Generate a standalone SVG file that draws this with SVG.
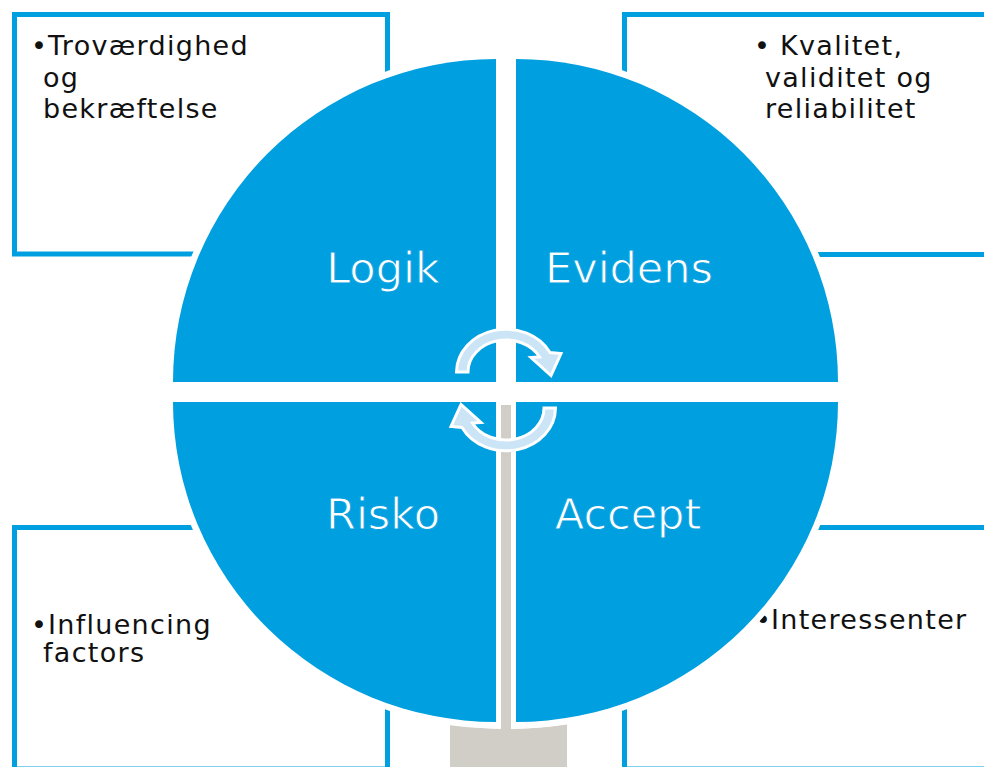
<svg xmlns="http://www.w3.org/2000/svg" width="984" height="767" viewBox="0 0 984 767">
<style>
.box{fill:#FFFFFF;stroke:#009FDF;stroke-width:5}
.pie{fill:#009FDF;stroke:#FFFFFF;stroke-width:13;paint-order:stroke fill;stroke-linejoin:miter}
.lbl{font-family:"DejaVu Sans","Liberation Sans",sans-serif;font-size:43px;fill:#FFFFFF;stroke:#009FDF;stroke-width:0.9px;text-anchor:middle}
.txt{font-family:"DejaVu Sans","Liberation Sans",sans-serif;font-size:27px;fill:#111111;letter-spacing:1.3px}
.arr{fill:#CBE4F6;stroke:#FFFFFF;stroke-width:3;stroke-linejoin:miter}
.stand{fill:#D0CEC6}
</style>
<rect width="984" height="767" fill="#FFFFFF"/>
<g id="box-tl">
<rect class="box" x="14.5" y="14.5" width="373" height="239.5"/>
<text class="txt"><tspan x="31" y="55">•</tspan><tspan x="48" y="55">Troværdighed</tspan><tspan x="43" y="87">og</tspan><tspan x="43" y="118">bekræftelse</tspan></text>
</g>
<g id="box-tr">
<rect class="box" x="624.5" y="14.5" width="400" height="240"/>
<text class="txt"><tspan x="754" y="55">•</tspan><tspan x="780" y="55">Kvalitet,</tspan><tspan x="765" y="87">validitet og</tspan><tspan x="765" y="118">reliabilitet</tspan></text>
</g>
<g id="box-bl">
<rect class="box" x="14.5" y="527.5" width="373" height="241.5"/>
<text class="txt"><tspan x="31" y="634">•</tspan><tspan x="48" y="634">Influencing</tspan><tspan x="43" y="662">factors</tspan></text>
</g>
<g id="box-br">
<rect class="box" x="624.5" y="527.5" width="400" height="241.5"/>
<text class="txt"><tspan x="755" y="629">•</tspan><tspan x="771" y="629">Interessenter</tspan></text>
</g>
<g id="stand-base">
<path class="stand" d="M450,724 Q508,734 567,724 L567,767 L450,767 Z"/>
</g>
<g id="logik">
<path class="pie" d="M496,382 L173,382 A323,323 0 0 1 496,59 Z"/>
<text class="lbl" x="383" y="283">Logik</text>
</g>
<g id="evidens">
<path class="pie" d="M516,382 L516,59 A322,323 0 0 1 838,382 Z"/>
<text class="lbl" x="629" y="283">Evidens</text>
</g>
<g id="risko">
<path class="pie" d="M496,402 L496,722 A323,320 0 0 1 173,402 Z"/>
<text class="lbl" x="383" y="529">Risko</text>
</g>
<g id="accept">
<path class="pie" d="M516,402 L838,402 A322,320 0 0 1 516,722 Z"/>
<text class="lbl" x="628" y="529">Accept</text>
</g>
<g id="stand-pole">
<rect class="stand" x="501" y="405" width="10" height="324"/>
</g>
<g id="connectors">
<path class="arr" d="M456.5,372 A49.5,43 0 0 1 550,352.5 L561,353.5 L551,375.5 L531,357.5 L539.6,357 A38,32 0 0 0 468,372 Z"/>
<path class="arr" transform="rotate(180 506 390)" d="M456.5,372 A49.5,43 0 0 1 550,352.5 L561,353.5 L551,375.5 L531,357.5 L539.6,357 A38,32 0 0 0 468,372 Z"/>
</g>
</svg>
